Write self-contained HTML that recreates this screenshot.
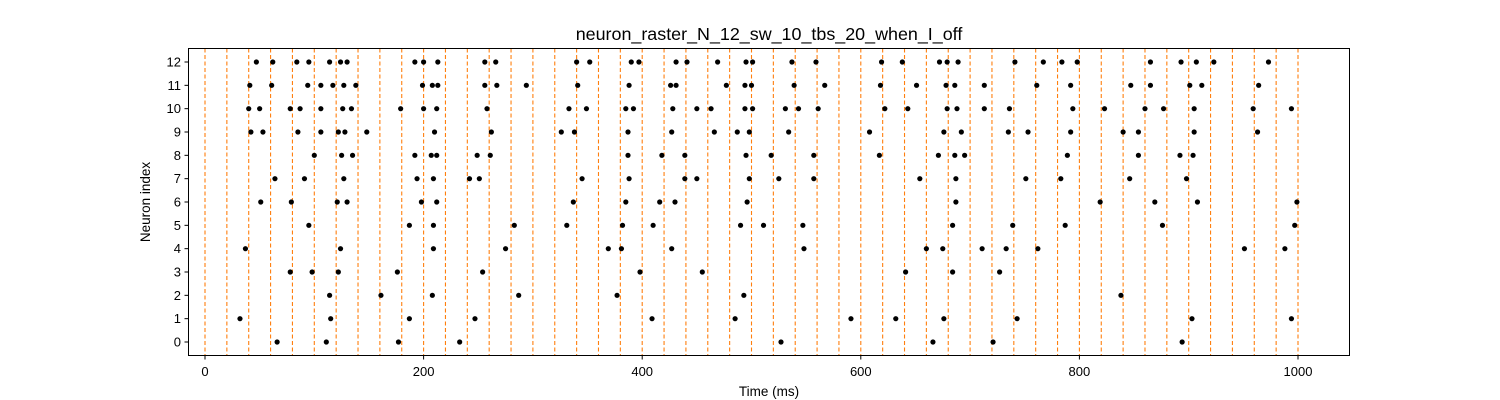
<!DOCTYPE html>
<html><head><meta charset="utf-8"><style>
html,body{margin:0;padding:0;background:#fff;}
svg{display:block;font-family:"Liberation Sans","DejaVu Sans",sans-serif;}
</style></head><body>
<svg id="chart" width="1500" height="400" viewBox="0 0 1500 400" xmlns="http://www.w3.org/2000/svg">
<rect x="0" y="0" width="1500" height="400" fill="#fff"/>
<text x="769" y="40" font-size="17.9" text-anchor="middle" fill="#000">neuron_raster_N_12_sw_10_tbs_20_when_I_off</text>
<g id="guides"></g>
<g id="dots"></g>
<rect x="188.5" y="48.5" width="1161" height="307" fill="none" stroke="#000" stroke-width="1"/>
<g id="xaxis"></g>
<g id="yaxis"></g>
<text x="769" y="396" font-size="13.5" text-anchor="middle">Time (ms)</text>
<text x="150" y="202" font-size="13.5" text-anchor="middle" transform="rotate(-90 150 202)">Neuron index</text>
</svg>
<script>
const xTicks = [0, 200, 400, 600, 800, 1000];
const yTicks = [0,1,2,3,4,5,6,7,8,9,10,11,12];
const windowStart = 0, windowEnd = 1000, windowStep = 20;
const n0 = [66,111,177,233,527,666,721,894];
const n1 = [32,115,187,247,409,485,591,632,676,743,903,994];
const n2 = [114,161,208,287,377,493,838];
const n3 = [78,98,122,176,254,398,455,641,684,727];
const n4 = [37,124,209,275,369,381,427,548,660,675,711,733,762,951,988];
const n5 = [95,187,209,283,331,382,410,490,511,547,684,739,787,876,997];
const n6 = [51,79,121,130,198,212,337,385,416,430,496,687,819,869,908,999];
const n7 = [64,91,127,194,209,242,251,345,388,439,450,498,525,557,654,687,751,783,846,898];
const n8 = [100,125,135,192,207,212,249,261,387,418,439,495,518,557,617,671,686,695,789,854,892,904];
const n9 = [42,53,85,106,122,128,148,210,262,326,338,387,427,466,487,498,534,608,676,692,735,753,792,840,854,905,963];
const n10 = [40,50,78,87,106,126,134,179,200,212,258,333,349,385,392,428,450,463,494,501,531,543,561,622,643,679,688,713,736,794,823,860,877,905,959,994];
const n11 = [41,61,94,106,117,127,138,199,208,213,256,267,294,341,388,426,431,477,494,500,539,567,618,651,678,686,713,761,792,847,865,901,912,964];
const n12 = [47,62,84,95,114,124,130,192,200,213,256,266,340,352,390,397,431,441,469,495,501,537,559,619,638,672,679,689,741,767,784,798,865,893,907,923,973];
const spikes = [n0,n1,n2,n3,n4,n5,n6,n7,n8,n9,n10,n11,n12];

const NS = "http://www.w3.org/2000/svg";
const X = t => 205 + (t - 0) * 1.093;
const Y = n => 342 - n * (280 / 12);
function mk(tag, attrs, parent) {
  const e = document.createElementNS(NS, tag);
  for (const k in attrs) e.setAttribute(k, attrs[k]);
  parent.appendChild(e);
  return e;
}
const guides = document.getElementById('guides');
for (let t = windowStart; t <= windowEnd; t += windowStep) {
  const l = mk('line', {x1: X(t), x2: X(t), y1: 48.5, y2: 355.5, stroke: '#ff7f0e', 'stroke-width': 1.1, 'stroke-dasharray': '4,2.5'}, guides);
  
  
}
const dots = document.getElementById('dots');
spikes.forEach((arr, n) => {
  arr.forEach(t => {
    const c = mk('circle', {cx: X(t), cy: Y(n), r: 2.6, fill: '#000'}, dots);
    
    
  });
});
const xa = document.getElementById('xaxis');
xTicks.forEach(v => {
  const tk = mk('line', {x1: X(v), x2: X(v), y1: 355.5, y2: 359.5, stroke: '#000'}, xa);
  
  
  const tx = mk('text', {x: X(v), y: 376, 'font-size': 13, 'text-anchor': 'middle'}, xa);
  tx.textContent = v;
  
  
});
const ya = document.getElementById('yaxis');
yTicks.forEach(v => {
  const tk = mk('line', {x1: 184.5, x2: 188.5, y1: Y(v), y2: Y(v), stroke: '#000'}, ya);
  
  
  const tx = mk('text', {x: 181, y: Y(v) + 4.5, 'font-size': 13, 'text-anchor': 'end'}, ya);
  tx.textContent = v;
  
  
});
</script>
</body></html>
